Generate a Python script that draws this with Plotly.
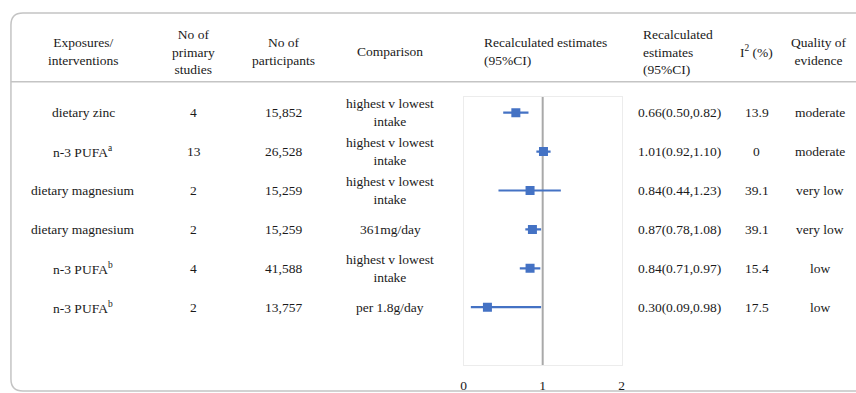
import plotly.graph_objects as go

W, H = 856, 393

exposures = ["dietary zinc", "n-3 PUFA<sup>a</sup>", "dietary magnesium",
             "dietary magnesium", "n-3 PUFA<sup>b</sup>", "n-3 PUFA<sup>b</sup>"]
n_studies = ["4", "13", "2", "2", "4", "2"]
n_participants = ["15,852", "26,528", "15,259", "15,259", "41,588", "13,757"]
comparisons = ["highest v lowest<br>intake", "highest v lowest<br>intake",
               "highest v lowest<br>intake", "361mg/day",
               "highest v lowest<br>intake", "per 1.8g/day"]
estimate_labels = ["0.66(0.50,0.82)", "1.01(0.92,1.10)", "0.84(0.44,1.23)",
                   "0.87(0.78,1.08)", "0.84(0.71,0.97)", "0.30(0.09,0.98)"]
i2_values = ["13.9", "0", "39.1", "39.1", "15.4", "17.5"]
quality = ["moderate", "moderate", "very low", "very low", "low", "low"]

# plotted values (as drawn in the reference)
est = [0.66, 1.01, 0.84, 0.87, 0.84, 0.30]
ci_low = [0.50, 0.92, 0.44, 0.78, 0.71, 0.09]
ci_high = [0.82, 1.10, 1.23, 0.98, 0.97, 0.98]
x_ticks = [0, 1, 2]

headers = ["Exposures/<br>interventions", "No of<br>primary<br>studies",
           "No of<br>participants", "Comparison",
           "Recalculated estimates<br>(95%CI)",
           "Recalculated<br>estimates<br>(95%CI)",
           "I<sup>2</sup> (%)", "Quality of<br>evidence"]

FONT = "Liberation Serif, Times New Roman, serif"
TXT = "#1a1a1a"
FS = 13.5

def px(x):
    return x / W

def py(y):
    return 1 - y / H

rows = list(range(len(est)))
row_y0, row_dy = 113, 39

fig = go.Figure()
fig.add_trace(go.Scatter(
    x=est, y=rows, mode="markers",
    marker=dict(symbol="square", size=9, color="#4472C4"),
    error_x=dict(type="data", symmetric=False,
                 array=[h - e for h, e in zip(ci_high, est)],
                 arrayminus=[e - l for e, l in zip(est, ci_low)],
                 color="#4472C4", thickness=2.2, width=0),
    showlegend=False, hoverinfo="skip"))

ax_left, ax_right, ax_top, ax_bottom = 464, 623, 97, 366
y_top = (ax_top - row_y0) / row_dy
y_bot = (ax_bottom - row_y0) / row_dy

fig.update_layout(
    width=W, height=H, margin=dict(l=0, r=0, t=0, b=0),
    paper_bgcolor="white", plot_bgcolor="white",
    font=dict(family=FONT, size=FS, color=TXT),
    xaxis=dict(domain=[px(ax_left), px(ax_right)], range=[0, 2],
               tickvals=x_ticks, ticktext=[str(t) for t in x_ticks],
               showgrid=False, zeroline=False, ticks="",
               showline=True, linecolor="#ececec", linewidth=1, mirror=True,
               ticklabelstandoff=8,
               tickfont=dict(family=FONT, size=FS, color=TXT)),
    yaxis=dict(domain=[py(ax_bottom), py(ax_top)], range=[y_bot, y_top],
               showticklabels=False, showgrid=False, zeroline=False,
               showline=True, linecolor="#ececec", linewidth=1, mirror=True),
)

# reference line at 1
fig.add_shape(type="line", xref="x", yref="y", x0=1, x1=1, y0=y_top, y1=y_bot,
              line=dict(color="#a9a9a9", width=2), layer="below")

# outer rounded frame (extends past right edge)
L, T, R, B, rr = 8, 13, 900, 392, 12
path = (f"M {px(L)},{py(T + rr)} Q {px(L)},{py(T)} {px(L + rr)},{py(T)} "
        f"L {px(R)},{py(T)} L {px(R)},{py(B)} L {px(L + rr)},{py(B)} "
        f"Q {px(L)},{py(B)} {px(L)},{py(B - rr)} Z")
fig.add_shape(type="path", xref="paper", yref="paper", path=path,
              line=dict(color="#c4c4c4", width=1.5), fillcolor="rgba(0,0,0,0)")
# header separator
fig.add_shape(type="line", xref="paper", yref="paper",
              x0=px(L), x1=px(R), y0=py(82), y1=py(82),
              line=dict(color="#c4c4c4", width=1.5))

# headers
header_pos = [(81, 52, "center"), (192, 52, "center"), (282, 52, "center"),
              (390, 52, "center"), (482, 52, "left"), (643, 52, "left"),
              (759, 52, "center"), (822, 52, "center")]
for text, (x, y, al) in zip(headers, header_pos):
    fig.add_annotation(x=px(x), y=py(y), xref="paper", yref="paper",
                       text=text, showarrow=False, align=al,
                       xanchor="left" if al == "left" else "center",
                       yanchor="middle", font=dict(family=FONT, size=FS, color=TXT))

col_x = [81, 192, 282, 390]
cols = [exposures, n_studies, n_participants, comparisons]
for i in rows:
    yy = row_y0 + row_dy * i
    for cx, col in zip(col_x, cols):
        fig.add_annotation(x=px(cx), y=py(yy), xref="paper", yref="paper",
                           text=col[i], showarrow=False, align="center",
                           xanchor="center", yanchor="middle",
                           font=dict(family=FONT, size=FS, color=TXT))
    fig.add_annotation(x=px(637), y=py(yy), xref="paper", yref="paper",
                       text=estimate_labels[i], showarrow=False,
                       xanchor="left", yanchor="middle",
                       font=dict(family=FONT, size=FS, color=TXT))
    fig.add_annotation(x=px(759), y=py(yy), xref="paper", yref="paper",
                       text=i2_values[i], showarrow=False,
                       xanchor="center", yanchor="middle",
                       font=dict(family=FONT, size=FS, color=TXT))
    fig.add_annotation(x=px(823), y=py(yy), xref="paper", yref="paper",
                       text=quality[i], showarrow=False,
                       xanchor="center", yanchor="middle",
                       font=dict(family=FONT, size=FS, color=TXT))

fig.write_html("out.html", config={"displayModeBar": False},
               post_script="document.body.style.margin='0';")
